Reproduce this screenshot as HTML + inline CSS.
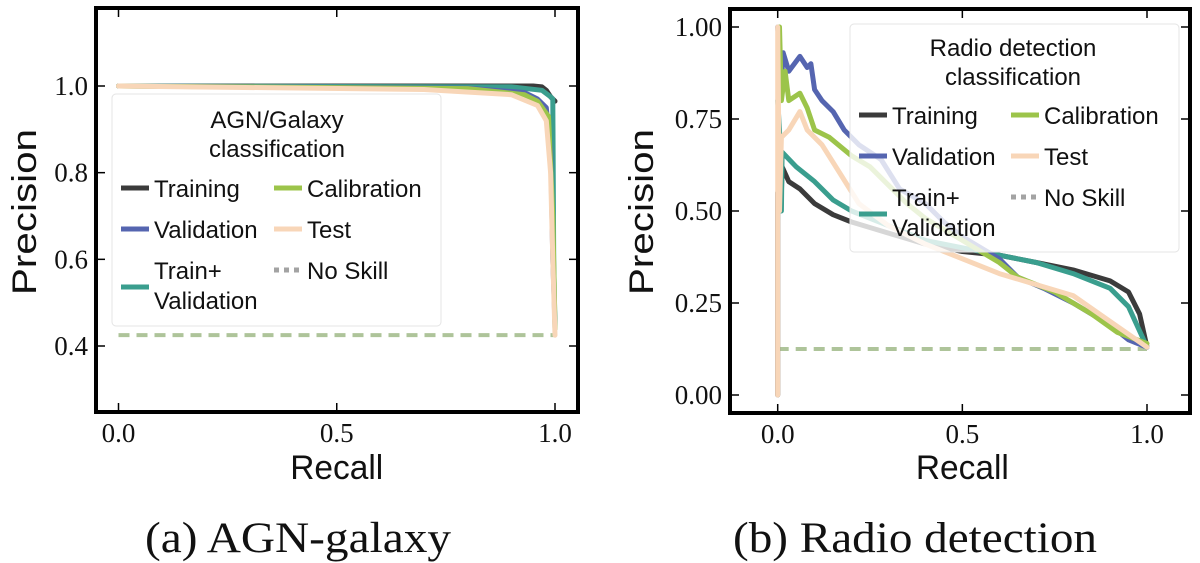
<!DOCTYPE html>
<html><head><meta charset="utf-8"><style>
html,body{margin:0;padding:0;background:#fff;}
svg{display:block;}
.tick{font-family:"Liberation Serif",serif;font-size:27px;fill:#111;}
.lab{font-family:"Liberation Sans",sans-serif;font-size:34px;fill:#111;}
.cap{font-family:"Liberation Serif",serif;font-size:43px;fill:#111;}
.leg{font-family:"Liberation Sans",sans-serif;font-size:24px;fill:#111;}
</style></head><body>
<svg id="fig" width="1200" height="563" viewBox="0 0 1200 563" xmlns="http://www.w3.org/2000/svg"></svg>
<script>
// ---------- data: panel (a) AGN/Galaxy ----------
const aTrainingX = [0, 0.95, 0.97, 0.98, 0.99, 1.0];
const aTrainingY = [1, 1, 0.998, 0.99, 0.975, 0.965];
const aTrainValX = [0, 0.9, 0.97, 0.99, 0.995, 0.997, 1.0];
const aTrainValY = [1, 0.998, 0.99, 0.975, 0.97, 0.6, 0.44];
const aValidationX = [0, 0.8, 0.93, 0.96, 0.98, 0.99, 0.995, 1.0];
const aValidationY = [1, 0.995, 0.985, 0.97, 0.95, 0.85, 0.6, 0.45];
const aCalibrationX = [0, 0.8, 0.93, 0.96, 0.985, 0.995, 1.0];
const aCalibrationY = [1, 0.994, 0.98, 0.965, 0.93, 0.7, 0.44];
const aTestX = [0, 0.7, 0.9, 0.96, 0.98, 0.99, 0.995, 1.0];
const aTestY = [1, 0.992, 0.98, 0.955, 0.92, 0.8, 0.6, 0.425];
const aNoSkill = 0.425;
const aYTicks = [0.4, 0.6, 0.8, 1.0];
const aYTickLabels = ["0.4", "0.6", "0.8", "1.0"];
// ---------- data: panel (b) Radio detection ----------
const bTrainingX = [0, 0, 0.01, 0.012, 0.03, 0.06, 0.1, 0.15, 0.2, 0.3, 0.4, 0.5, 0.6, 0.7, 0.8, 0.9, 0.95, 0.98, 1.0];
const bTrainingY = [0, 0.55, 0.55, 0.62, 0.58, 0.56, 0.52, 0.49, 0.47, 0.44, 0.41, 0.39, 0.38, 0.36, 0.34, 0.31, 0.28, 0.22, 0.13];
const bTrainValX = [0, 0.005, 0.01, 0.012, 0.05, 0.1, 0.15, 0.2, 0.3, 0.4, 0.5, 0.6, 0.7, 0.8, 0.9, 0.95, 1.0];
const bTrainValY = [0.8, 0.72, 0.5, 0.66, 0.62, 0.58, 0.53, 0.5, 0.46, 0.42, 0.4, 0.38, 0.36, 0.33, 0.29, 0.24, 0.13];
const bValidationX = [0, 0.01, 0.015, 0.03, 0.06, 0.08, 0.09, 0.1, 0.12, 0.15, 0.18, 0.22, 0.28, 0.33, 0.4, 0.45, 0.5, 0.55, 0.6, 0.65, 0.72, 0.8, 0.9, 0.95, 1.0];
const bValidationY = [1, 0.85, 0.93, 0.88, 0.92, 0.89, 0.9, 0.83, 0.8, 0.77, 0.72, 0.68, 0.64, 0.56, 0.52, 0.47, 0.43, 0.4, 0.37, 0.32, 0.29, 0.25, 0.19, 0.15, 0.13];
const bCalibrationX = [0.005, 0.01, 0.02, 0.03, 0.06, 0.08, 0.1, 0.14, 0.2, 0.25, 0.3, 0.35, 0.4, 0.5, 0.55, 0.6, 0.65, 0.75, 0.85, 0.92, 1.0];
const bCalibrationY = [1, 0.8, 0.88, 0.8, 0.82, 0.78, 0.72, 0.7, 0.65, 0.62, 0.57, 0.52, 0.48, 0.42, 0.39, 0.36, 0.32, 0.28, 0.22, 0.17, 0.14];
const bTestX = [0, 0, 0.005, 0.01, 0.03, 0.06, 0.08, 0.12, 0.17, 0.22, 0.3, 0.4, 0.5, 0.6, 0.7, 0.8, 0.9, 1.0];
const bTestY = [0, 1, 0.5, 0.7, 0.72, 0.77, 0.72, 0.68, 0.6, 0.52, 0.46, 0.41, 0.37, 0.33, 0.3, 0.27, 0.2, 0.13];
const bNoSkill = 0.125;
const bYTicks = [0, 0.25, 0.5, 0.75, 1.0];
const bYTickLabels = ["0.00", "0.25", "0.50", "0.75", "1.00"];
const xTicks = [0, 0.5, 1.0];
const xTickLabels = ["0.0", "0.5", "1.0"];

const C = {training:"#3b3b3b", trainval:"#3a9e8e", validation:"#5565b0", calibration:"#9cc44a", test:"#f8d6b8", noskill:"#a3a3a3", base:"#aec49a"};
const NS = "http://www.w3.org/2000/svg";
const svg = document.getElementById('fig');
function mk(tag, attrs, parent){const e=document.createElementNS(NS,tag);for(const k in attrs)e.setAttribute(k,attrs[k]);(parent||svg).appendChild(e);return e;}

function panel(P){
  const g = mk('g',{});
  
  
  const sx = v => P.x0 + (v - 0) * (P.x1 - P.x0);
  const sy = v => P.yz + (v - P.yv0) * (P.yo - P.yz) / (P.yv1 - P.yv0);
  const clipId = P.name + '-clip';
  const cp = mk('clipPath',{id:clipId},g);
  mk('rect',{x:P.L,y:P.T,width:P.R-P.L,height:P.B-P.T},cp);
  const plot = mk('g',{'clip-path':'url(#'+clipId+')'},g);
  const bl = mk('line',{x1:sx(0),x2:sx(1),y1:sy(P.noskill),y2:sy(P.noskill),stroke:C.base,'stroke-width':4,'stroke-dasharray':'11 7'},plot);
  
  
  P.series.forEach(s=>{
    const pts = s.x.map((v,i)=>sx(v).toFixed(1)+','+sy(s.y[i]).toFixed(1)).join(' ');
    const pl = mk('polyline',{points:pts,fill:'none',stroke:s.c,'stroke-width':5,'stroke-linejoin':'round','stroke-linecap':'round'},plot);
    
    
  });
  const fr = mk('rect',{x:P.L,y:P.T,width:P.R-P.L,height:P.B-P.T,fill:'none',stroke:'#000','stroke-width':4},g);
  
  
  xTicks.forEach((t,i)=>{
    const x=sx(t);
    mk('line',{x1:x,x2:x,y1:P.B,y2:P.B-9,stroke:'#000','stroke-width':1.5},g);
    mk('line',{x1:x,x2:x,y1:P.T,y2:P.T+9,stroke:'#000','stroke-width':1.5},g);
    const tx = mk('text',{x:x,y:P.B+30,'text-anchor':'middle',class:'tick'},g);
    tx.textContent = xTickLabels[i];
    
    
  });
  P.yTicks.forEach((t,i)=>{
    const y=sy(t);
    mk('line',{x1:P.L,x2:P.L+9,y1:y,y2:y,stroke:'#000','stroke-width':1.5},g);
    mk('line',{x1:P.R,x2:P.R-9,y1:y,y2:y,stroke:'#000','stroke-width':1.5},g);
    const ty = mk('text',{x:P.L-8,y:y+9,'text-anchor':'end',class:'tick'},g);
    ty.textContent = P.yLabels[i];
    
    
  });
  const xl = mk('text',{x:sx(0.5),y:479,'text-anchor':'middle',class:'lab',textLength:93,lengthAdjust:'spacingAndGlyphs'},g);
  xl.textContent='Recall';
  
  
  const yl = mk('text',{x:0,y:0,'text-anchor':'middle',class:'lab',transform:'translate('+(P.ylx)+',212) rotate(-90)',textLength:166,lengthAdjust:'spacingAndGlyphs'},g);
  yl.textContent='Precision';
  
  
  const cap = mk('text',{x:P.capX,y:552,'text-anchor':'middle',class:'cap',textLength:P.capW,lengthAdjust:'spacingAndGlyphs'},g);
  cap.textContent=P.caption;
  
  
  const Lg = P.leg;
  const lg = mk('g',{},g);
  
  
  mk('rect',{x:Lg.x,y:Lg.y,width:Lg.w,height:Lg.h,rx:4,fill:'rgba(255,255,255,0.8)',stroke:'#e4e4e4','stroke-width':1},lg);
  Lg.title.forEach((t,i)=>{const e=mk('text',{x:Lg.tx,y:Lg.ty+i*29,'text-anchor':'middle',class:'leg'},lg);e.textContent=t;});
  const entries=[
    {n:'Training',c:C.training,col:0,row:Lg.r[0]},
    {n:'Calibration',c:C.calibration,col:1,row:Lg.r[0]},
    {n:'Validation',c:C.validation,col:0,row:Lg.r[1]},
    {n:'Test',c:C.test,col:1,row:Lg.r[1]},
    {n:'Train+|Validation',c:C.trainval,col:0,row:Lg.r[2]},
    {n:'No Skill',c:C.noskill,col:1,row:Lg.r[3],dot:true}
  ];
  entries.forEach(en=>{
    const hx = en.col?Lg.c2:Lg.c1;
    const eg = mk('g',{},lg);
    
    
    const parts = en.n.split('|');
    const hy = parts.length>1 ? en.row+17 : en.row;
    const hyAdj = en.dot ? en.row : hy;
    mk('line',{x1:hx,x2:hx+28,y1:hyAdj,y2:hyAdj,stroke:en.c,'stroke-width':5,'stroke-dasharray':en.dot?'5 5':'none'},eg);
    parts.forEach((p,i)=>{const t=mk('text',{x:hx+33,y:en.row+9+i*30,class:'leg'},eg);t.textContent=p;});
  });
}

panel({name:'agn-galaxy-panel',L:96,R:578,T:8,B:412,x0:118.5,x1:555,yv0:0.4,yv1:1.0,yz:346,yo:86,
  noskill:aNoSkill,yTicks:aYTicks,yLabels:aYTickLabels,ylx:36,caption:'(a) AGN-galaxy',capX:298,capW:306,
  series:[
    {n:'training',x:aTrainingX,y:aTrainingY,c:C.training},
    {n:'train-validation',x:aTrainValX,y:aTrainValY,c:C.trainval},
    {n:'validation',x:aValidationX,y:aValidationY,c:C.validation},
    {n:'calibration',x:aCalibrationX,y:aCalibrationY,c:C.calibration},
    {n:'test',x:aTestX,y:aTestY,c:C.test}],
  leg:{x:112,y:94,w:329,h:232,tx:277,ty:128,title:['AGN/Galaxy','classification'],c1:121,c2:274,r:[188,229,270,270]}
});
panel({name:'radio-detection-panel',L:730,R:1190,T:9,B:413,x0:777.7,x1:1147,yv0:0,yv1:1,yz:395,yo:27,
  noskill:bNoSkill,yTicks:bYTicks,yLabels:bYTickLabels,ylx:653,caption:'(b) Radio detection',capX:915,capW:364,
  series:[
    {n:'training',x:bTrainingX,y:bTrainingY,c:C.training},
    {n:'train-validation',x:bTrainValX,y:bTrainValY,c:C.trainval},
    {n:'validation',x:bValidationX,y:bValidationY,c:C.validation},
    {n:'calibration',x:bCalibrationX,y:bCalibrationY,c:C.calibration},
    {n:'test',x:bTestX,y:bTestY,c:C.test}],
  leg:{x:850,y:24,w:329,h:228,tx:1013,ty:56,title:['Radio detection','classification'],c1:859,c2:1011,r:[115,156,197,197]}
});
</script>
</body></html>
